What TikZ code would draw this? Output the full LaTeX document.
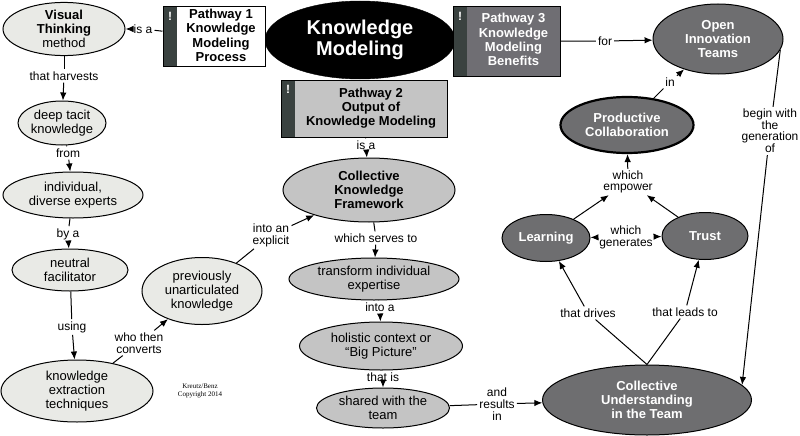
\documentclass[tikz,border=0pt]{standalone}
\usepackage{fontspec}
\setmainfont{Liberation Sans}
\newfontfamily\copyfont{Liberation Serif}
\usetikzlibrary{shapes.geometric,arrows.meta}

\definecolor{conceptlight}{HTML}{E9EAE6}
\definecolor{conceptmid}  {HTML}{C4C4C4}
\definecolor{conceptdark} {HTML}{6E6E70}
\definecolor{pathdark}    {HTML}{6F6E73}
\definecolor{stripdark}   {HTML}{3A4240}

\newcommand{\conceptfont}{\fontsize{13}{14}\selectfont}
\newcommand{\linkfont}{\fontsize{12}{12}\selectfont}
\newcommand{\tightlinkfont}{\fontsize{12}{10.7}\selectfont}
\newcommand{\pathwaytext}[1]{\begin{tabular}{@{\hspace{14pt}}c@{}}#1\end{tabular}}

\tikzset{
  concept/.style={ellipse, draw=black, line width=1pt, inner sep=0pt,
    align=center, font=\conceptfont},
  lightconcept/.style={concept, fill=conceptlight},
  midconcept/.style={concept, fill=conceptmid},
  darkconcept/.style={concept, fill=conceptdark, text=white,
    font=\conceptfont\bfseries},
  linkphrase/.style={inner sep=2pt, align=center, font=\linkfont},
  pathway/.style={rectangle, draw=black, line width=1pt, inner sep=0pt,
    font=\fontsize{13}{14.3}\selectfont\bfseries,
    path picture={
      \fill[stripdark, draw=none]
        (path picture bounding box.north west) rectangle
        ([xshift=14pt]path picture bounding box.south west);
      \node[draw=none, fill=none, text=white, inner sep=0pt,
        font=\fontsize{12}{12}\selectfont\bfseries]
        at ([xshift=7pt,yshift=-9pt]path picture bounding box.north west) {!};
    }},
  conn/.style={line width=1pt, draw=black},
  arr/.style={conn, -{Latex[length=8pt,width=6.5pt]}},
}

\begin{document}
\begin{tikzpicture}[x=1pt,y=-1pt]
\useasboundingbox (0,0) rectangle (800,436);

%% -- pathways and the central title --------------------------------
\node[ellipse, fill=black, draw=black, text=white, inner sep=0pt,
  align=center, font=\fontsize{20}{21}\selectfont\bfseries,
  minimum width=190pt, minimum height=78pt] (kmodel) at (360,40) {Knowledge\\Modeling};
\node[pathway, fill=white, minimum width=102pt, minimum height=60pt]
  (path1) at (214,37) {\pathwaytext{Pathway 1\\Knowledge\\Modeling\\Process}};
\node[pathway, fill=conceptmid, minimum width=166pt, minimum height=57pt]
  (path2) at (364,108.5) {\pathwaytext{Pathway 2\\Output of\\Knowledge Modeling}};
\node[pathway, fill=pathdark, text=white, minimum width=107pt, minimum height=69pt]
  (path3) at (506.5,41.5) {\pathwaytext{Pathway 3\\Knowledge\\Modeling\\Benefits}};

%% -- pathway 1: the process ----------------------------------------
\node[lightconcept, minimum width=122pt, minimum height=52pt] (visual) at (64,29)
  {\textbf{Visual}\\\textbf{Thinking}\\method};
\node[lightconcept, minimum width=88pt, minimum height=44pt] (tacit) at (62,123)
  {deep tacit\\knowledge};
\node[lightconcept, minimum width=140pt, minimum height=46pt] (experts) at (73,195)
  {individual,\\diverse experts};
\node[lightconcept, minimum width=116pt, minimum height=42pt] (facil) at (70,270)
  {neutral\\facilitator};
\node[lightconcept, minimum width=152pt, minimum height=62pt] (extract) at (77,391)
  {knowledge\\extraction\\techniques};
\node[lightconcept, minimum width=120pt, minimum height=67pt] (unart) at (202,291)
  {previously\\unarticulated\\knowledge};

%% -- pathway 2: the output -----------------------------------------
\node[midconcept, font=\conceptfont\bfseries, minimum width=172pt, minimum height=64pt]
  (framework) at (369,190) {Collective\\Knowledge\\Framework};
\node[midconcept, minimum width=170pt, minimum height=42pt] (transform) at (374,279)
  {transform individual\\expertise};
\node[midconcept, minimum width=163pt, minimum height=48pt] (holistic) at (381,346)
  {holistic context or\\“Big Picture”};
\node[midconcept, minimum width=133pt, minimum height=40pt] (shared) at (383,408)
  {shared with the\\team};

%% -- pathway 3: the benefits ---------------------------------------
\node[darkconcept, minimum width=130pt, minimum height=70pt] (openinno) at (718,39)
  {Open\\Innovation\\Teams};
\node[darkconcept, line width=2.2pt, minimum width=133pt, minimum height=56pt]
  (collab) at (627,125) {Productive\\Collaboration};
\node[darkconcept, minimum width=88pt, minimum height=47pt] (learning) at (546,238) {Learning};
\node[darkconcept, minimum width=86pt, minimum height=47pt] (trust) at (705,236) {Trust};
\node[darkconcept, minimum width=209pt, minimum height=70pt] (understand) at (647,400)
  {Collective\\Understanding\\in the Team};

%% -- linking phrases -----------------------------------------------
\node[linkphrase] (isa1) at (143,29) {is a};
\node[linkphrase] (harvests) at (64,76) {that harvests};
\node[linkphrase] (from) at (68,153) {from};
\node[linkphrase] (bya) at (68,234) {by a};
\node[linkphrase] (using) at (72,327) {using};
\node[linkphrase] (converts) at (139,343) {who then\\converts};
\node[linkphrase] (explicit) at (271,235) {into an\\explicit};
\node[linkphrase] (isa2) at (366,145) {is a};
\node[linkphrase] (serves) at (376,238) {which serves to};
\node[linkphrase] (intoa) at (380,307) {into a};
\node[linkphrase] (thatis) at (383,377) {that is};
\node[linkphrase] (results) at (497,404) {and\\results\\in};
\node[linkphrase] (for) at (605,41) {for};
\node[linkphrase] (in) at (670,82) {in};
\node[linkphrase, font=\tightlinkfont] (beginwith) at (770,131)
  {begin with\\the\\generation\\of};
\node[linkphrase, font=\tightlinkfont] (empower) at (628,182) {which\\empower};
\node[linkphrase] (generates) at (626,237) {which\\generates};
\node[linkphrase] (drives) at (588,313) {that drives};
\node[linkphrase] (leadsto) at (685,312) {that leads to};

\node[font=\copyfont\fontsize{7}{8}\selectfont, align=center] (copyright) at (200,391)
  {Kreutz/Benz\\Copyright 2014};

%% -- connections ---------------------------------------------------
\draw[conn] (path1) -- (isa1);   \draw[arr] (isa1) -- (visual);
\draw[conn] (visual) -- (harvests); \draw[arr] (harvests) -- (tacit);
\draw[conn] (tacit) -- (from);   \draw[arr] (from) -- (experts);
\draw[conn] (experts) -- (bya);  \draw[arr] (bya) -- (facil);
\draw[conn] (facil) -- (using);  \draw[arr] (using) -- (extract);
\draw[conn] (extract) -- (converts); \draw[arr] (converts) -- (unart);
\draw[conn] (unart) -- (explicit);   \draw[arr] (explicit) -- (framework);
\draw[conn] (path2) -- (isa2);   \draw[arr] (isa2) -- (framework);
\draw[conn] (framework) -- (serves); \draw[arr] (serves) -- (transform);
\draw[conn] (transform) -- (intoa);  \draw[arr] (intoa) -- (holistic);
\draw[conn] (holistic) -- (thatis);  \draw[arr] (thatis) -- (shared);
\draw[conn] (shared) -- (results);   \draw[arr] (results) -- (understand);
\draw[conn] (understand.north) -- (drives);  \draw[arr] (drives) -- (learning);
\draw[conn] (understand.north) -- (leadsto); \draw[arr] (leadsto) -- (trust);
\draw[arr] (generates) -- (learning); \draw[arr] (generates) -- (trust);
\draw[arr] (learning) -- (empower);   \draw[arr] (trust) -- (empower);
\draw[arr] (empower) -- (collab);
\draw[conn] (collab) -- (in);    \draw[arr] (in) -- (openinno);
\draw[conn] (path3) -- (for);    \draw[arr] (for) -- (openinno);
\draw[conn] (openinno.-10) -- (beginwith); \draw[arr] (beginwith) -- (understand.9);
\end{tikzpicture}
\end{document}
